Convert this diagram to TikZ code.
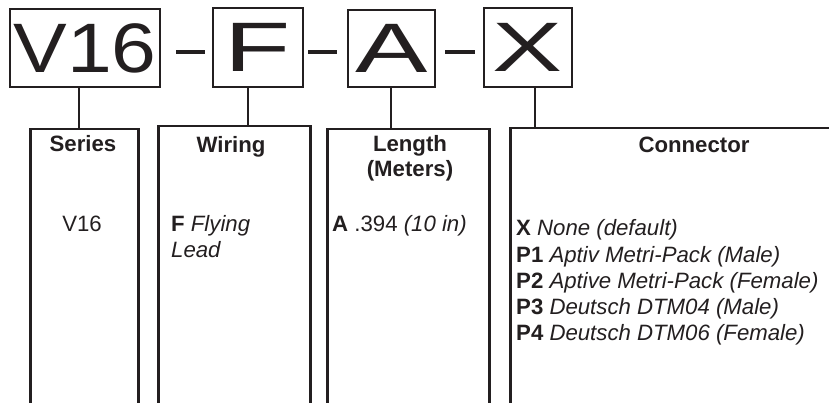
\documentclass[tikz,border=0pt]{standalone}
\usepackage{fontspec}
\setmainfont{Liberation Sans}
\usepackage{graphicx}
\definecolor{ink}{RGB}{35,31,32}
\begin{document}
\begin{tikzpicture}[x=1pt,y=-1pt,
  topbox/.style={draw=ink, line width=2.3pt, inner sep=0pt, text=ink, font=\fontsize{70}{70}\selectfont},
  colbox/.style={draw=ink, line width=2.5pt, anchor=north west, inner sep=0pt, minimum height=320pt},
  link/.style={draw=ink, line width=2pt},
  dashline/.style={draw=ink, line width=4.5pt},
  head/.style={font=\fontsize{22.2}{26}\selectfont\bfseries, text=ink, anchor=base, inner sep=0pt},
  body/.style={font=\fontsize{22.2}{26}\selectfont, text=ink, anchor=base west, inner sep=0pt},
  bodyc/.style={font=\fontsize{22.2}{26}\selectfont, text=ink, anchor=base, inner sep=0pt}]
\useasboundingbox (0,0) rectangle (829,403);
\clip (0,0) rectangle (829,403);
% top code boxes
\node[topbox, minimum width=150pt, minimum height=78pt] (b1) at (85,48) {\scalebox{1.15}[1]{V16}};
\node[topbox, minimum width=90pt, minimum height=79pt] (b2) at (258,47.5) {\scalebox{1.55}[1]{F}};
\node[topbox, minimum width=87pt, minimum height=77pt] (b3) at (391.5,48.5) {\scalebox{1.55}[1]{A}};
\node[topbox, minimum width=88pt, minimum height=79pt] (b4) at (528,47.5) {\scalebox{1.5}[1]{X}};
% dashes
\draw[dashline] (176,52) -- (205,52);
\draw[dashline] (308,52) -- (337,52);
\draw[dashline] (445,52) -- (475,52);
% column boxes
\node[colbox, minimum width=108pt] (c1) at (29,128) {};
\node[colbox, minimum width=152pt] (c2) at (157,125) {};
\node[colbox, minimum width=162pt] (c3) at (326,128) {};
\node[colbox, minimum width=340pt] (c4) at (509,127) {};
% connectors
\draw[link] (b1.south -| 79,0) -- (c1.north -| 79,0);
\draw[link] (b2.south -| 248,0) -- (c2.north -| 248,0);
\draw[link] (b3.south -| 391,0) -- (c3.north -| 391,0);
\draw[link] (b4.south -| 535,0) -- (c4.north -| 535,0);
% headers
\node[head] (h1) at (83,152) {Series};
\node[head] (h2) at (231,153) {Wiring};
\node[head] (h3) at (410,152) {Length};
\node[head] (h3b) at (410,177) {(Meters)};
\node[head] (h4) at (694,153) {Connector};
% contents
\node[bodyc] (t1) at (82,232) {V16};
\node[body] (t2) at (171,232) {\textbf{F} \textit{Flying}};
\node[body] (t2b) at (171,257) {\textit{Lead}};
\node[body] (t3) at (332,232) {\textbf{A} .394 \textit{(10 in)}};
\node[body] (t4) at (516,236) {\textbf{X} \textit{None (default)}};
\node[body] (t5) at (516,262) {\textbf{P1} \textit{Aptiv Metri-Pack (Male)}};
\node[body] (t6) at (516,288) {\textbf{P2} \textit{Aptive Metri-Pack (Female)}};
\node[body] (t7) at (516,314) {\textbf{P3} \textit{Deutsch DTM04 (Male)}};
\node[body] (t8) at (516,340) {\textbf{P4} \textit{Deutsch DTM06 (Female)}};
\end{tikzpicture}
\end{document}
